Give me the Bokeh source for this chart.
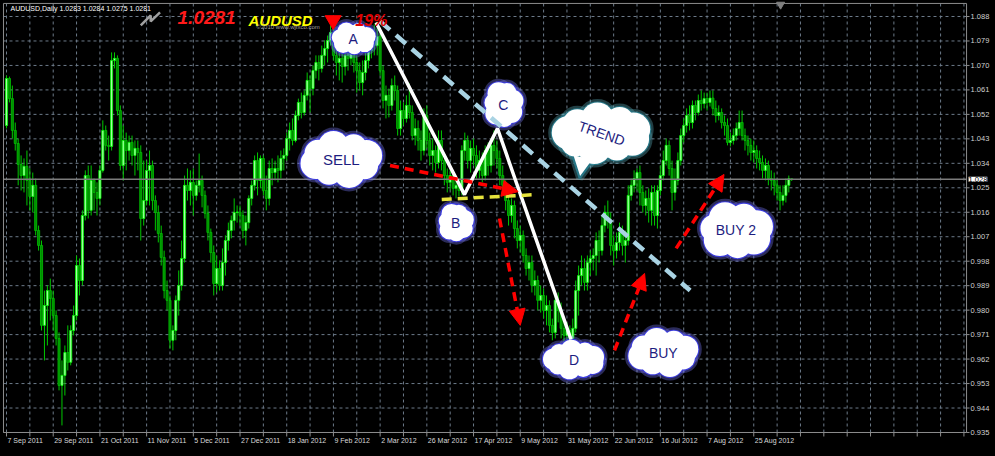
import math
from bokeh.plotting import figure
from bokeh.models import (Range1d, Label, Arrow, NormalHead, ColumnDataSource,
                          GlobalInlineStyleSheet)
from bokeh.embed import file_html
from bokeh.resources import INLINE

# ---------------- data (AUDUSD daily) ----------------
first_open = 1.0479
closes = [
    1.0652, 1.0578, 1.0461, 1.0413, 1.0336, 1.0295, 1.0329, 1.0277, 1.0218, 1.0259,
    1.0093, 1.0038, 0.9744, 0.9817, 0.9872, 0.9843, 0.9780, 0.9696, 0.9523, 0.9560,
    0.9644, 0.9608, 0.9725, 0.9780, 0.9964, 0.9909, 1.0148, 1.0295, 1.0167, 1.0277,
    1.0233, 1.0211, 1.0314, 1.0461, 1.0406, 1.0402, 1.0718, 1.0726, 1.0534, 1.0332,
    1.0424, 1.0387, 1.0417, 1.0369, 1.0395, 1.0380, 1.0137, 1.0203, 1.0314, 1.0332,
    1.0203, 1.0159, 1.0082, 0.9994, 0.9872, 0.9836, 0.9689, 0.9725, 0.9836, 0.9891,
    0.9990, 1.0259, 1.0240, 1.0270, 1.0222, 1.0259, 1.0277, 1.0222, 1.0156, 1.0086,
    1.0012, 0.9898, 0.9953, 0.9891, 0.9975, 1.0056, 1.0093, 1.0130, 1.0159, 1.0161,
    1.0148, 1.0093, 1.0122, 1.0211, 1.0259, 1.0350, 1.0277, 1.0358, 1.0240, 1.0211,
    1.0321, 1.0306, 1.0321, 1.0314, 1.0358, 1.0369, 1.0431, 1.0461, 1.0424, 1.0516,
    1.0564, 1.0527, 1.0590, 1.0645, 1.0615, 1.0681, 1.0711, 1.0689, 1.0737, 1.0762,
    1.0792, 1.0821, 1.0737, 1.0711, 1.0726, 1.0696, 1.0737, 1.0726, 1.0755, 1.0711,
    1.0681, 1.0637, 1.0674, 1.0718, 1.0755, 1.0792, 1.0773, 1.0806, 1.0681, 1.0571,
    1.0590, 1.0553, 1.0626, 1.0608, 1.0468, 1.0534, 1.0505, 1.0553, 1.0527, 1.0442,
    1.0468, 1.0424, 1.0387, 1.0516, 1.0424, 1.0369, 1.0387, 1.0343, 1.0424, 1.0350,
    1.0295, 1.0270, 1.0295, 1.0248, 1.0259, 1.0240, 1.0387, 1.0424, 1.0350, 1.0395,
    1.0369, 1.0314, 1.0350, 1.0295, 1.0387, 1.0332, 1.0406, 1.0387, 1.0358, 1.0295,
    1.0259, 1.0203, 1.0148, 1.0185, 1.0100, 1.0056, 1.0075, 1.0001, 0.9953, 0.9975,
    0.9891, 0.9909, 0.9836, 0.9854, 0.9799, 0.9817, 0.9744, 0.9718, 0.9836, 0.9799,
    0.9733, 0.9707, 0.9725, 0.9696, 0.9733, 0.9872, 0.9927, 0.9953, 0.9902, 0.9975,
    0.9990, 1.0001, 1.0056, 1.0019, 1.0111, 1.0159, 1.0130, 1.0038, 1.0019, 1.0049,
    1.0086, 1.0038, 1.0056, 1.0222, 1.0259, 1.0284, 1.0306, 1.0233, 1.0185, 1.0211,
    1.0167, 1.0233, 1.0148, 1.0240, 1.0295, 1.0350, 1.0406, 1.0321, 1.0233, 1.0277,
    1.0350, 1.0442, 1.0479, 1.0516, 1.0490, 1.0553, 1.0527, 1.0571, 1.0560, 1.0578,
    1.0564, 1.0580, 1.0542, 1.0516, 1.0527, 1.0490, 1.0479, 1.0417, 1.0424, 1.0442,
    1.0468, 1.0490, 1.0442, 1.0424, 1.0406, 1.0380, 1.0387, 1.0358, 1.0343, 1.0314,
    1.0332, 1.0284, 1.0277, 1.0259, 1.0233, 1.0203, 1.0222, 1.0259, 1.0283, 1.0281]
highs = [
    1.0663, 1.0659, 1.0626, 1.0490, 1.0431, 1.0369, 1.0358, 1.0387, 1.0321, 1.0306,
    1.0284, 1.0111, 1.0056, 0.9872, 0.9891, 0.9916, 0.9872, 0.9799, 0.9718, 0.9615,
    0.9670, 0.9744, 0.9744, 0.9817, 1.0001, 0.9990, 1.0167, 1.0314, 1.0332, 1.0332,
    1.0284, 1.0270, 1.0332, 1.0498, 1.0479, 1.0442, 1.0748, 1.0748, 1.0737, 1.0553,
    1.0479, 1.0453, 1.0442, 1.0442, 1.0424, 1.0424, 1.0406, 1.0350, 1.0350, 1.0387,
    1.0350, 1.0222, 1.0185, 1.0111, 1.0019, 0.9909, 0.9854, 0.9744, 0.9854, 0.9946,
    1.0056, 1.0295, 1.0321, 1.0314, 1.0321, 1.0277, 1.0376, 1.0295, 1.0240, 1.0185,
    1.0100, 1.0038, 1.0001, 0.9983, 1.0027, 1.0075, 1.0122, 1.0148, 1.0211, 1.0185,
    1.0185, 1.0167, 1.0148, 1.0222, 1.0277, 1.0369, 1.0380, 1.0369, 1.0369, 1.0295,
    1.0350, 1.0358, 1.0350, 1.0369, 1.0387, 1.0395, 1.0453, 1.0490, 1.0505, 1.0534,
    1.0578, 1.0600, 1.0608, 1.0674, 1.0663, 1.0700, 1.0737, 1.0737, 1.0773, 1.0792,
    1.0810, 1.0847, 1.0836, 1.0773, 1.0762, 1.0755, 1.0773, 1.0784, 1.0792, 1.0784,
    1.0737, 1.0711, 1.0718, 1.0748, 1.0784, 1.0821, 1.0851, 1.0858, 1.0821, 1.0700,
    1.0626, 1.0615, 1.0652, 1.0663, 1.0626, 1.0571, 1.0564, 1.0590, 1.0634, 1.0553,
    1.0505, 1.0498, 1.0461, 1.0542, 1.0553, 1.0453, 1.0431, 1.0406, 1.0461, 1.0461,
    1.0369, 1.0321, 1.0332, 1.0314, 1.0295, 1.0284, 1.0406, 1.0453, 1.0442, 1.0424,
    1.0431, 1.0406, 1.0387, 1.0380, 1.0406, 1.0417, 1.0431, 1.0461, 1.0424, 1.0387,
    1.0332, 1.0277, 1.0222, 1.0211, 1.0203, 1.0130, 1.0111, 1.0093, 1.0027, 1.0001,
    1.0001, 0.9946, 0.9927, 0.9891, 0.9880, 0.9854, 0.9836, 0.9769, 0.9872, 0.9865,
    0.9828, 0.9762, 0.9755, 0.9744, 0.9769, 0.9909, 0.9964, 1.0001, 0.9990, 1.0001,
    1.0019, 1.0027, 1.0086, 1.0093, 1.0148, 1.0185, 1.0203, 1.0159, 1.0075, 1.0086,
    1.0122, 1.0111, 1.0093, 1.0259, 1.0284, 1.0314, 1.0321, 1.0332, 1.0259, 1.0240,
    1.0248, 1.0259, 1.0259, 1.0259, 1.0332, 1.0387, 1.0431, 1.0424, 1.0350, 1.0321,
    1.0380, 1.0468, 1.0505, 1.0542, 1.0553, 1.0571, 1.0571, 1.0593, 1.0608, 1.0600,
    1.0600, 1.0608, 1.0608, 1.0571, 1.0553, 1.0542, 1.0516, 1.0505, 1.0453, 1.0468,
    1.0490, 1.0534, 1.0534, 1.0468, 1.0442, 1.0431, 1.0424, 1.0406, 1.0387, 1.0369,
    1.0358, 1.0350, 1.0314, 1.0306, 1.0284, 1.0259, 1.0259, 1.0284, 1.0295, 1.0284]
lows = [
    1.0468, 1.0564, 1.0431, 1.0387, 1.0259, 1.0240, 1.0233, 1.0185, 1.0167, 1.0159,
    1.0075, 1.0019, 0.9725, 0.9615, 0.9670, 0.9762, 0.9725, 0.9670, 0.9505, 0.9376,
    0.9486, 0.9578, 0.9597, 0.9707, 0.9762, 0.9854, 0.9891, 1.0130, 1.0137, 1.0148,
    1.0167, 1.0148, 1.0185, 1.0306, 1.0387, 1.0350, 1.0387, 1.0689, 1.0516, 1.0314,
    1.0277, 1.0314, 1.0350, 1.0332, 1.0295, 1.0314, 1.0056, 1.0111, 1.0185, 1.0185,
    1.0167, 1.0093, 1.0049, 0.9964, 0.9843, 0.9799, 0.9659, 0.9652, 0.9689, 0.9780,
    0.9872, 0.9975, 1.0203, 1.0185, 1.0148, 1.0203, 1.0233, 1.0178, 1.0137, 1.0056,
    0.9975, 0.9854, 0.9865, 0.9872, 0.9872, 0.9927, 1.0019, 1.0064, 1.0093, 1.0122,
    1.0111, 1.0064, 1.0038, 1.0100, 1.0185, 1.0240, 1.0222, 1.0248, 1.0222, 1.0167,
    1.0185, 1.0259, 1.0277, 1.0270, 1.0284, 1.0314, 1.0350, 1.0387, 1.0406, 1.0417,
    1.0498, 1.0505, 1.0516, 1.0571, 1.0527, 1.0590, 1.0652, 1.0645, 1.0674, 1.0700,
    1.0711, 1.0773, 1.0718, 1.0663, 1.0645, 1.0637, 1.0663, 1.0681, 1.0700, 1.0674,
    1.0600, 1.0608, 1.0590, 1.0645, 1.0689, 1.0726, 1.0737, 1.0737, 1.0663, 1.0542,
    1.0505, 1.0509, 1.0534, 1.0571, 1.0442, 1.0442, 1.0479, 1.0490, 1.0505, 1.0424,
    1.0406, 1.0387, 1.0350, 1.0369, 1.0395, 1.0332, 1.0314, 1.0306, 1.0321, 1.0314,
    1.0259, 1.0233, 1.0240, 1.0222, 1.0211, 1.0218, 1.0222, 1.0350, 1.0321, 1.0306,
    1.0332, 1.0284, 1.0284, 1.0270, 1.0277, 1.0295, 1.0306, 1.0332, 1.0321, 1.0259,
    1.0233, 1.0167, 1.0111, 1.0122, 1.0064, 1.0027, 1.0012, 0.9975, 0.9927, 0.9909,
    0.9865, 0.9854, 0.9799, 0.9791, 0.9769, 0.9744, 0.9718, 0.9689, 0.9696, 0.9755,
    0.9696, 0.9681, 0.9670, 0.9677, 0.9681, 0.9718, 0.9780, 0.9891, 0.9872, 0.9872,
    0.9927, 0.9946, 0.9927, 0.9975, 1.0001, 1.0086, 1.0100, 1.0001, 0.9964, 0.9990,
    1.0019, 1.0001, 0.9975, 1.0038, 1.0203, 1.0233, 1.0240, 1.0185, 1.0159, 1.0148,
    1.0122, 1.0111, 1.0111, 1.0100, 1.0222, 1.0277, 1.0332, 1.0295, 1.0167, 1.0203,
    1.0259, 1.0332, 1.0417, 1.0453, 1.0461, 1.0468, 1.0498, 1.0516, 1.0534, 1.0542,
    1.0534, 1.0549, 1.0516, 1.0490, 1.0498, 1.0468, 1.0442, 1.0406, 1.0402, 1.0409,
    1.0424, 1.0442, 1.0424, 1.0387, 1.0369, 1.0350, 1.0343, 1.0321, 1.0314, 1.0284,
    1.0277, 1.0259, 1.0240, 1.0222, 1.0203, 1.0167, 1.0185, 1.0196, 1.0233, 1.0275]

date_labels = ["7 Sep 2011", "29 Sep 2011", "21 Oct 2011", "11 Nov 2011", "5 Dec 2011",
               "27 Dec 2011", "18 Jan 2012", "9 Feb 2012", "2 Mar 2012", "26 Mar 2012",
               "17 Apr 2012", "9 May 2012", "31 May 2012", "22 Jun 2012", "16 Jul 2012",
               "7 Aug 2012", "25 Aug 2012"]
date_bars = [0, 16, 32, 48, 64, 80, 96, 112, 128, 144, 160, 176, 192, 208, 224, 240, 256]
grid_bars = [0, 8, 16, 24, 32, 40, 48, 56, 64, 72, 80, 88, 96, 104, 112, 120, 128, 136, 144,
             152, 160, 168, 176, 184, 192, 200, 208, 216, 224, 232, 240, 248, 256, 264, 272,
             280, 288, 296, 304, 312, 320, 328]
price_ticks = [1.088, 1.079, 1.070, 1.061, 1.052, 1.043, 1.034, 1.025, 1.016, 1.007,
               0.998, 0.989, 0.980, 0.971, 0.962, 0.953, 0.944, 0.935]
price_tick_labels = ["1.088", "1.079", "1.070", "1.061", "1.052", "1.043", "1.034", "1.025",
                     "1.016", "1.007", "0.998", "0.989", "0.980", "0.971", "0.962", "0.953",
                     "0.944", "0.935"]
current_price = 1.0281
current_price_label = "1.028"
header_text = "AUDUSD,Daily  1.0283 1.0284 1.0275 1.0281"
change_text = "19%"

# annotation anchors (bar index, price)
cloud_text = ["A", "SELL", "B", "C", "TREND", "D", "BUY", "BUY 2"]
cloud_bar = [118.8, 114.7, 153.9, 170.2, 203.9, 194.4, 225.0, 249.9]
cloud_price = [1.0799, 1.0354, 1.0122, 1.0556, 1.0450, 0.9618, 0.9644, 1.0093]
zig_bar = [126.6, 156.9, 168.2, 193.4]
zig_price = [1.0858, 1.0225, 1.0468, 0.9692]
trend_bar = [128.0, 234.2]
trend_price = [1.0862, 0.9872]
neck_bar = [149.1, 181.8]
neck_price = [1.0207, 1.0225]
arrow_from_bar = [131.4, 168.9, 208.3, 229.4]
arrow_from_price = [1.0332, 1.0137, 0.9652, 1.0027]
arrow_to_bar = [175.3, 176.0, 218.6, 245.8]
arrow_to_price = [1.0236, 0.9744, 0.9935, 1.0299]

# ---------------- geometry / styling ----------------
W, H = 991, 448
PXB = 2.919        # pixels per bar
PPP = 0.0003678    # price per pixel
X_START = -6 / PXB
X_END = X_START + W / PXB
Y_END = 1.093885
Y_START = Y_END - H * PPP
LEFT_B, RIGHT_B = -1.03, 328.9        # chart border (bars)
TOP_B, BOT_B = 1.0928, 0.9350         # chart border (price)
FONT = "Liberation Sans"
FRAME_C = "#8c8c8c"

p = figure(width=W, height=H, x_range=Range1d(X_START, X_END), y_range=Range1d(Y_START, Y_END),
           output_backend="svg", toolbar_location=None,
           x_axis_location=None, y_axis_location=None,
           background_fill_color="black", border_fill_color="black",
           min_border_left=0, min_border_top=0, min_border_right=0, min_border_bottom=0)
p.outline_line_color = None
p.grid.visible = False
p.stylesheets = [GlobalInlineStyleSheet(css="html, body { background: #000; }")]

# dashed grid inside the chart area
p.segment(x0=grid_bars, y0=[BOT_B] * len(grid_bars), x1=grid_bars, y1=[TOP_B] * len(grid_bars),
          line_color="#6c7a89", line_dash="3 3", line_width=1)
p.segment(x0=[LEFT_B] * len(price_ticks), y0=price_ticks, x1=[RIGHT_B] * len(price_ticks),
          y1=price_ticks, line_color="#6c7a89", line_dash="3 3", line_width=1)

# tick marks outside the chart area
p.segment(x0=grid_bars, y0=[BOT_B] * len(grid_bars), x1=grid_bars,
          y1=[BOT_B - 4 * PPP] * len(grid_bars), line_color=FRAME_C, line_width=1)
p.segment(x0=[RIGHT_B] * len(price_ticks), y0=price_ticks,
          x1=[RIGHT_B + 3 / PXB] * len(price_ticks), y1=price_ticks, line_color=FRAME_C, line_width=1)

for b, t in zip(date_bars, date_labels):
    p.add_layout(Label(x=b, y=BOT_B - 5 * PPP, text=t, x_offset=1, text_align="left",
                       text_baseline="top", text_font=FONT, text_font_size="7px",
                       text_color="#d8d8d8"))
for v, t in zip(price_ticks, price_tick_labels):
    p.add_layout(Label(x=RIGHT_B + 4 / PXB, y=v, text=t, text_align="left",
                       text_baseline="middle", text_font=FONT, text_font_size="7.5px",
                       text_color="#d0d0d0"))

# ---------------- candles ----------------
idx = list(range(len(closes)))
opens = [first_open] + closes[:-1]
up = [i for i in idx if closes[i] >= opens[i]]
dn = [i for i in idx if closes[i] < opens[i]]
p.segment(idx, highs, idx, lows, line_color="#00c800", line_width=1)
p.vbar(x=up, width=0.72, top=[closes[i] for i in up], bottom=[opens[i] for i in up],
       fill_color="#a6ffa6", line_color="#00ff00", line_width=0.8)
p.vbar(x=dn, width=0.72, top=[opens[i] for i in dn], bottom=[closes[i] for i in dn],
       fill_color="#008c00", line_color="#00c000", line_width=0.8)

# current price line
p.segment(x0=[LEFT_B], y0=[current_price], x1=[RIGHT_B], y1=[current_price],
          line_color="#7c7c7c", line_width=1.5)

# chart border
p.line([LEFT_B, RIGHT_B, RIGHT_B, LEFT_B, LEFT_B], [TOP_B, TOP_B, BOT_B, BOT_B, TOP_B],
       line_color=FRAME_C, line_width=1)

# ---------------- clouds ----------------
cloud_w = [46, 84, 37, 41, 100, 62, 72, 76]
cloud_h = [34, 58, 40, 48, 62, 40, 50, 60]
cloud_fs = [14, 15, 14, 14, 14, 14, 14, 14]
cloud_outline = ["#3c3cdc"] * 4 + ["#267686"] + ["#3c3cdc"] * 3
cloud_glow = ["#7b7bff"] * 4 + ["#5fb4c4"] + ["#7b7bff"] * 3

bx, by, bd, boc, bgc = [], [], [], [], []
ex, ey, ew, eh = [], [], [], []
for cb, cp, w, h, oc, gc in zip(cloud_bar, cloud_price, cloud_w, cloud_h, cloud_outline, cloud_glow):
    r = 0.27 * min(w, h)
    a = w / 2 - r
    b = h / 2 - r
    per = 2 * math.pi * math.sqrt((a * a + b * b) / 2)
    n = max(7, int(round(per / (1.05 * r))))
    for k in range(n):
        t = 2 * math.pi * k / n + 0.3
        rr = r * (1.0 if k % 2 == 0 else 0.86)
        bx.append(cb + a * math.cos(t) / PXB)
        by.append(cp + b * math.sin(t) * PPP)
        bd.append(2 * rr)
        boc.append(oc)
        bgc.append(gc)
    ex.append(cb); ey.append(cp); ew.append(2 * a + 1.2 * r); eh.append(2 * b + 1.2 * r)

bsrc = ColumnDataSource(dict(x=bx, y=by, d=bd, oc=boc, gc=bgc))
p.scatter("x", "y", size="d", source=bsrc, marker="circle", fill_alpha=0,
          line_color="gc", line_width=7, line_alpha=0.35)
p.scatter("x", "y", size="d", source=bsrc, marker="circle", fill_alpha=0,
          line_color="oc", line_width=2.2)

# speech-bubble tail of the TREND cloud
ti = cloud_text.index("TREND")
tail_dx = [-30, -22, -8]
tail_dy = [20, 45, 26]
tx = [cloud_bar[ti] + d / PXB for d in tail_dx]
ty = [cloud_price[ti] - d * PPP for d in tail_dy]
p.patch(tx, ty, fill_alpha=0, line_color=cloud_glow[ti], line_width=7, line_alpha=0.35)
p.patch(tx, ty, fill_color="white", line_color=cloud_outline[ti], line_width=2.2)

p.scatter("x", "y", size="d", source=bsrc, marker="circle", fill_color="white", line_color=None)
p.ellipse(x=ex, y=ey, width=ew, height=eh, width_units="screen", height_units="screen",
          fill_color="white", line_color=None)

for t, cb, cp, fs in zip(cloud_text, cloud_bar, cloud_price, cloud_fs):
    ang = -0.33 if t == "TREND" else 0.0
    p.add_layout(Label(x=cb, y=cp, text=t, text_align="center", text_baseline="middle",
                       text_font=FONT, text_font_size=f"{fs}px", text_color="#1d1d80", angle=ang))

# ---------------- pattern lines ----------------
p.line(trend_bar, trend_price, line_color="#a9d3e3", line_width=4.5, line_dash="13 8")
p.line(zig_bar, zig_price, line_color="white", line_width=3.5)
p.line(neck_bar, neck_price, line_color="#e6e33c", line_width=3.5, line_dash="10 6")

for xs, ys, xe, ye in zip(arrow_from_bar, arrow_from_price, arrow_to_bar, arrow_to_price):
    p.add_layout(Arrow(end=NormalHead(size=16, fill_color="#ff0000", line_color="#ff0000", line_width=1),
                       x_start=xs, y_start=ys, x_end=xe, y_end=ye,
                       line_color="#ff0000", line_width=3.5, line_dash="9 6"))

# ---------------- header ----------------
p.add_layout(Label(x=1.37, y=1.0924, text=header_text, text_align="left", text_baseline="top",
                   text_font=FONT, text_font_size="7px", text_color="#ffffff"))
p.line([46.0, 49.4, 49.4, 52.6], [1.0847, 1.0884, 1.0862, 1.0895], line_color="#a0a0a0", line_width=2.5)
p.add_layout(Label(x=58.6, y=1.0900, text="1.0281", text_align="left", text_baseline="top",
                   text_font=FONT, text_font_size="19px", text_font_style="bold italic",
                   text_color="#ff1a1a"))
p.add_layout(Label(x=82.9, y=1.0897, text="AUDUSD", text_align="left", text_baseline="top",
                   text_font=FONT, text_font_size="15px", text_font_style="bold italic",
                   text_color="#ffff00"))
p.add_layout(Label(x=85.6, y=1.0851, text="©2010 www.wjfxco.com", text_align="left",
                   text_baseline="top", text_font=FONT, text_font_size="6px",
                   text_color="#a0a0a0"))
p.scatter([111.9], [1.0866], marker="inverted_triangle", size=16, fill_color="#ff0000", line_color="#ff0000")
p.add_layout(Label(x=119.5, y=1.0897, text=change_text, text_align="left", text_baseline="top",
                   text_font=FONT, text_font_size="16px", text_font_style="bold italic",
                   text_color="#e00000"))
p.scatter([265.2], [1.0924], marker="inverted_triangle", size=8, fill_color="#808080", line_color="#808080")

# current price box on the price scale
p.add_layout(Label(x=RIGHT_B + 2 / PXB, y=current_price, text=current_price_label, text_align="left",
                   text_baseline="middle", text_font=FONT, text_font_size="7.5px",
                   text_color="#000000", background_fill_color="#ffffff"))

open("out.html", "w").write(file_html(p, INLINE))
